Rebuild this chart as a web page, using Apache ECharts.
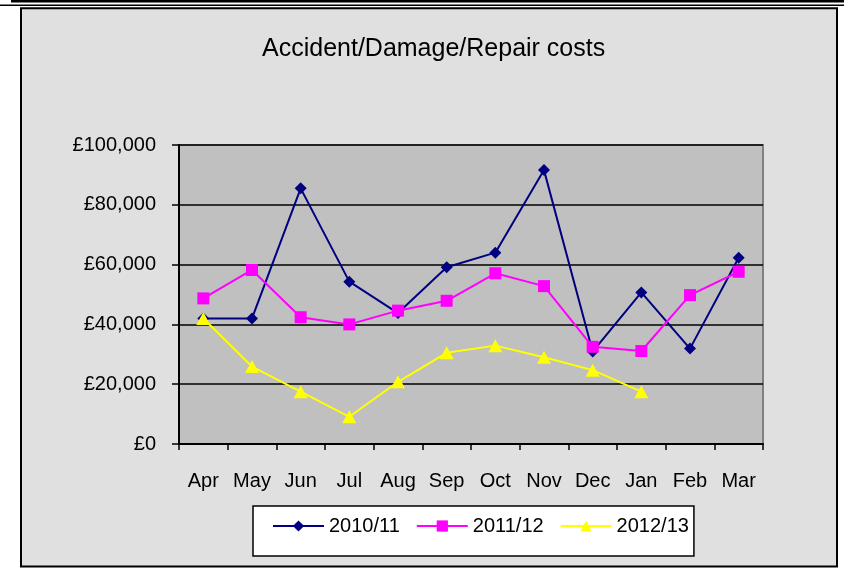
<!DOCTYPE html>
<html>
<head>
<meta charset="utf-8">
<script src="https://cdn.jsdelivr.net/npm/echarts@6/dist/echarts.min.js"></script>
<style>
html,body{margin:0;padding:0;background:#fff;}
#chart{width:844px;height:569px;}
</style>
</head>
<body>
<div id="chart"></div>
<script>
const categories = ['Apr','May','Jun','Jul','Aug','Sep','Oct','Nov','Dec','Jan','Feb','Mar'];
const series2010 = [42000, 42000, 85500, 54300, 43800, 59100, 64000, 91600, 30900, 50700, 31900, 62300];
const series2011 = [48700, 58200, 42400, 40000, 44600, 47900, 57100, 52800, 32500, 31100, 49800, 57600];
const series2012 = [42000, 25900, 17500, 9100, 20800, 30500, 32900, 29000, 24700, 17500, null, null];
const seriesNames = ['2010/11','2011/12','2012/13'];
const yTicks = [0, 20000, 40000, 60000, 80000, 100000];
const yTickLabels = ['£0','£20,000','£40,000','£60,000','£80,000','£100,000'];
const titleText = 'Accident/Damage/Repair costs';

const FONT = '"Liberation Sans", Arial, sans-serif';
const chart = echarts.init(document.getElementById('chart'), null, {renderer:'canvas'});
chart.setOption({
  backgroundColor: '#ffffff',
  animation: false,
  textStyle: {fontFamily: FONT},
  graphic: [
    {type:'rect', z:-10, shape:{x:21, y:8.2, width:816, height:558.3}, style:{fill:'#e0e0e0', stroke:'#000', lineWidth:2}},
    {type:'rect', z:-10, shape:{x:11, y:0, width:833, height:2.4}, style:{fill:'#000'}},
    {type:'rect', z:-10, shape:{x:0, y:4.4, width:844, height:1.6}, style:{fill:'#000'}}
  ],
  title: {
    text: titleText,
    left: 262, top: 37, padding: 0,
    textStyle: {fontFamily: FONT, fontSize: 25, fontWeight: 'normal', color: '#000'}
  },
  grid: {
    left: 179, top: 145, right: 81, bottom: 125,
    show: true, backgroundColor: '#c0c0c0', borderColor: '#808080', borderWidth: 2
  },
  legend: {
    data: seriesNames,
    left: 253, top: 506,
    padding: [10, 5, 20, 19],
    itemWidth: 51, itemHeight: 14, itemGap: 16,
    backgroundColor: '#fff', borderColor: '#000', borderWidth: 1.5, borderRadius: 0,
    textStyle: {fontFamily: FONT, fontSize: 20, color: '#000'}
  },
  xAxis: {
    type: 'category',
    data: categories,
    boundaryGap: true,
    axisLine: {lineStyle: {color: '#000', width: 2}},
    axisTick: {show: true, length: 6, alignWithLabel: false, lineStyle: {color: '#000', width: 1.5}},
    axisLabel: {margin: 27, fontFamily: FONT, fontSize: 20, color: '#000', interval: 0},
    splitLine: {show: false}
  },
  yAxis: {
    type: 'value',
    min: 0, max: 100000, interval: 20000,
    axisLine: {show: true, lineStyle: {color: '#000', width: 2}},
    axisTick: {show: true, length: 7, lineStyle: {color: '#000', width: 1.5}},
    axisLabel: {
      margin: 23, fontFamily: FONT, fontSize: 20, color: '#000',
      formatter: v => yTickLabels[yTicks.indexOf(v)]
    },
    splitLine: {show: true, lineStyle: {color: '#000', width: 1.5}}
  },
  series: [
    {name: seriesNames[0], type: 'line', data: series2010, symbol: 'diamond', symbolSize: [12, 12],
     lineStyle: {color: '#000080', width: 2}, itemStyle: {color: '#000080'}},
    {name: seriesNames[1], type: 'line', data: series2011, symbol: 'rect', symbolSize: 12,
     lineStyle: {color: '#ff00ff', width: 2}, itemStyle: {color: '#ff00ff'}},
    {name: seriesNames[2], type: 'line', data: series2012, symbol: 'triangle', symbolSize: [14, 13],
     lineStyle: {color: '#ffff00', width: 2}, itemStyle: {color: '#ffff00'}}
  ]
});
</script>
</body>
</html>
